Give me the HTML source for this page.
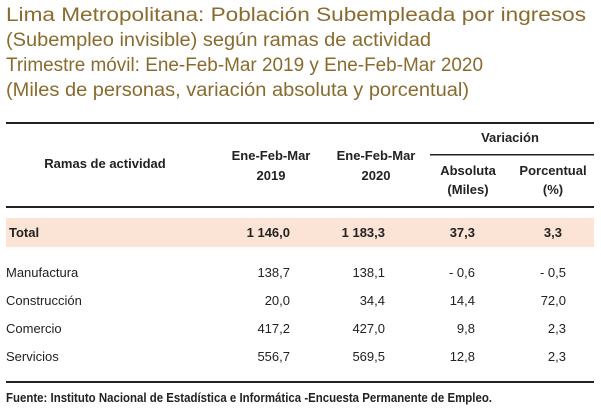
<!DOCTYPE html>
<html><head><meta charset="utf-8"><style>
body{margin:0;background:#fff;}
svg{display:block;}
.t{font-family:"Liberation Sans",sans-serif;font-size:19px;fill:#8a6b2e;}
.h{font-family:"Liberation Sans",sans-serif;font-size:13px;font-weight:bold;fill:#222;}
.c{font-family:"Liberation Sans",sans-serif;font-size:13px;fill:#222;}
</style></head><body>
<svg width="601" height="417" viewBox="0 0 601 417">
<g>
<text class="t" x="6" y="21" textLength="580" lengthAdjust="spacingAndGlyphs">Lima Metropolitana: Población Subempleada por ingresos</text>
<text class="t" x="6" y="46" textLength="425" lengthAdjust="spacingAndGlyphs">(Subempleo invisible) según ramas de actividad</text>
<text class="t" x="6" y="71" textLength="477" lengthAdjust="spacingAndGlyphs">Trimestre móvil: Ene-Feb-Mar 2019 y Ene-Feb-Mar 2020</text>
<text class="t" x="6" y="96" textLength="463" lengthAdjust="spacingAndGlyphs">(Miles de personas, variación absoluta y porcentual)</text>
</g>
<rect x="6" y="122" width="588" height="2" fill="#222"/>
<rect x="430" y="154" width="164" height="1.5" fill="#222"/>
<rect x="6" y="206" width="588" height="2" fill="#222"/>
<g>
<text class="h" x="510" y="142" text-anchor="middle">Variación</text>
<text class="h" x="105" y="168" text-anchor="middle">Ramas de actividad</text>
<text class="h" x="271" y="160" text-anchor="middle">Ene-Feb-Mar</text>
<text class="h" x="271" y="180" text-anchor="middle">2019</text>
<text class="h" x="376" y="160" text-anchor="middle">Ene-Feb-Mar</text>
<text class="h" x="376" y="180" text-anchor="middle">2020</text>
<text class="h" x="468" y="175" text-anchor="middle">Absoluta</text>
<text class="h" x="468" y="194" text-anchor="middle">(Miles)</text>
<text class="h" x="553" y="175" text-anchor="middle">Porcentual</text>
<text class="h" x="553" y="194" text-anchor="middle">(%)</text>
</g>
<rect x="6" y="218" width="588" height="29" fill="#fbe4d5"/>
<g>
<text class="h" x="9" y="237">Total</text>
<text class="h" x="290" y="237" text-anchor="end">1 146,0</text>
<text class="h" x="385" y="237" text-anchor="end">1 183,3</text>
<text class="h" x="475" y="237" text-anchor="end">37,3</text>
<text class="h" x="562" y="237" text-anchor="end">3,3</text>
</g>
<g id="rows"></g>
<rect x="6" y="381" width="588" height="2" fill="#222"/>
<text class="h" x="6" y="402" font-size="11.5" textLength="486" lengthAdjust="spacingAndGlyphs">Fuente: Instituto Nacional de Estadística e Informática -Encuesta Permanente de Empleo.</text>
</svg>
<script>
const categories=["Manufactura","Construcción","Comercio","Servicios"];
const v2019=["138,7","20,0","417,2","556,7"];
const v2020=["138,1","34,4","427,0","569,5"];
const vAbs=["- 0,6","14,4","9,8","12,8"];
const vPct=["- 0,5","72,0","2,3","2,3"];
const g=document.getElementById('rows');
const ns="http://www.w3.org/2000/svg";
categories.forEach((c,i)=>{
  const y=277+i*28;
  const row=document.createElementNS(ns,'g');
  
  
  const cells=[[c,6,'start'],[v2019[i],290,'end'],[v2020[i],385,'end'],[vAbs[i],475,'end'],[vPct[i],566,'end']];
  cells.forEach(([t,x,a])=>{
    const e=document.createElementNS(ns,'text');
    e.setAttribute('class','c');e.setAttribute('x',x);e.setAttribute('y',y);e.setAttribute('text-anchor',a);
    
    
    e.textContent=t;row.appendChild(e);
  });
  g.appendChild(row);
});
</script>
</body></html>
